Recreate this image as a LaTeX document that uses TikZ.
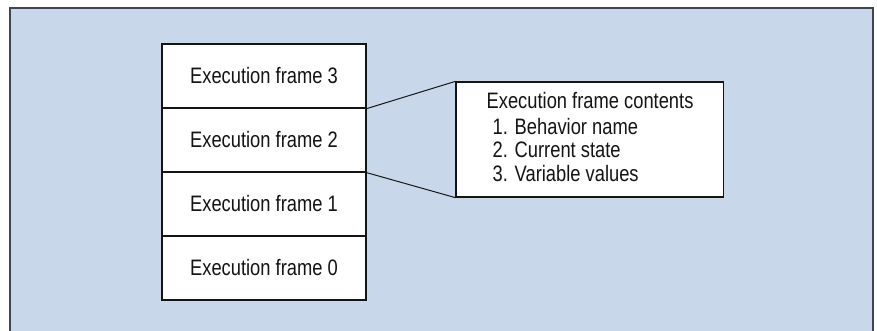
\documentclass[tikz,border=0pt]{standalone}
\usepackage{fontspec}
\setmainfont{Liberation Sans}[FakeStretch=0.82]
\usetikzlibrary{positioning}
\definecolor{execPanel}{RGB}{200,216,234}
\definecolor{execRule}{RGB}{66,70,76}
\definecolor{execInk}{RGB}{20,20,20}
\tikzset{
  etext/.style={font=\fontsize{15.9}{16.6}\selectfont, text=execInk},
  eline/.style={line width=.7pt, draw=execInk}
}
\begin{document}
\begin{tikzpicture}[
  frame/.style={etext, draw=execInk, line width=.9pt, fill=white,
    minimum width=5.1cm, minimum height=1.6cm, inner sep=0pt},
  contents/.style={etext, draw=execInk, line width=.9pt, fill=white,
    minimum width=6.69cm, minimum height=2.875cm, inner sep=0pt}
]
\path[use as bounding box] (0,0) rectangle (21.925,-8.25);

% panel behind the stack
\fill[execPanel] (.25,-8.4) rectangle (21.825,-.2);
\draw[execRule, line width=1.1pt] (.25,-8.4) -- (.25,-.2) -- (21.825,-.2)
  -- (21.825,-8.4);

\node[frame] (f3) at (6.6,-1.9) {Execution frame 3};
\node[frame] (f2) at (6.6,-3.5) {Execution frame 2};
\node[frame] (f1) at (6.6,-5.1) {Execution frame 1};
\node[frame] (f0) at (6.6,-6.7) {Execution frame 0};

\node[contents] (cont) at (14.745,-3.4875) {};
\node[etext, anchor=north west, align=left, inner sep=0pt] (list)
  at ([xshift=.775cm,yshift=-.26cm]cont.north west)
  {Execution frame contents\\[2pt]
   \hspace*{.15cm}1. Behavior name\\
   \hspace*{.15cm}2. Current state\\
   \hspace*{.15cm}3. Variable values};

\draw[eline] (f3.south east) -- (cont.north west);
\draw[eline] (f2.south east) -- (cont.south west);
\end{tikzpicture}
\end{document}
